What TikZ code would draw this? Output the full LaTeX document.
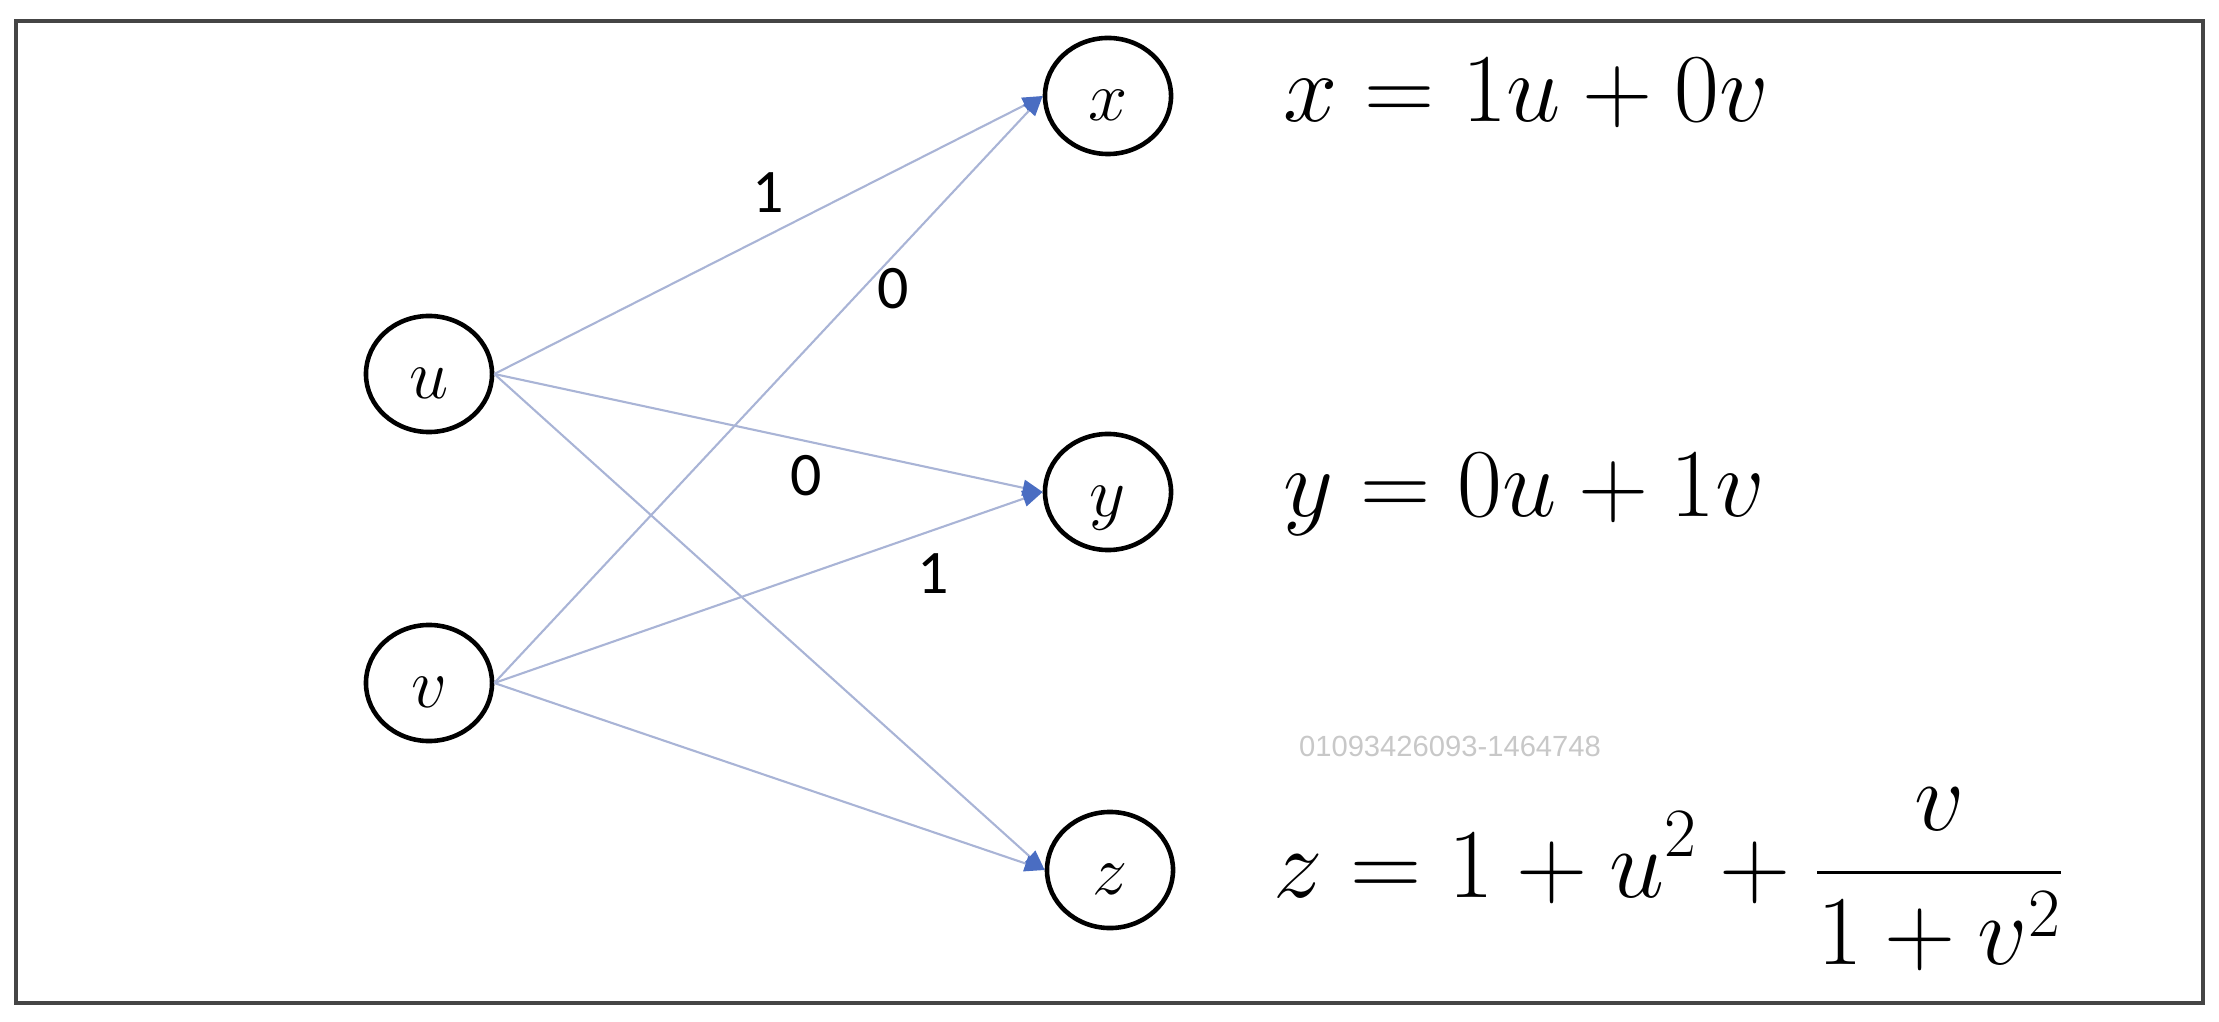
\RequirePackage{fix-cm}
\documentclass[tikz,border=0pt]{standalone}
\usepackage{amsmath}
\usepackage{fontspec}
\newfontfamily\lblfont{Carlito}
\newfontfamily\wmfont{Liberation Sans}
\usetikzlibrary{shapes.geometric,arrows.meta}
\definecolor{edgecol}{HTML}{A9B4D6}
\definecolor{tipcol}{HTML}{4A6DC2}
\definecolor{framecol}{HTML}{454545}
\definecolor{wmcol}{HTML}{C8C8C8}
\tikzset{
  var/.style={draw=black, line width=1.3pt, shape=ellipse, inner sep=0pt,
    minimum width=1.26cm, minimum height=1.16cm, text height=0.49cm, text depth=0pt,
    font=\fontsize{20}{22}\selectfont},
  edge/.style={draw=edgecol, line width=0.6pt,
    -{Triangle[length=0.2cm,width=0.16cm,color=tipcol]}},
  wlabel/.style={inner sep=0pt, font=\lblfont\fontsize{17.6}{20}\selectfont},
  eqn/.style={inner sep=0pt, anchor=base west, font=\fontsize{27.7}{32}\selectfont}
}
\begin{document}
\begin{tikzpicture}[x=0.01cm,y=-0.01cm]
\useasboundingbox (0,0) rectangle (2219,1022);
\draw[framecol, line width=0.9pt] (16,21) rectangle (2203,1003);
% nodes
\node[var] (u) at (429,374) {$u$};
\node[var] (v) at (429,683) {$v$};
\node[var] (x) at (1108,96) {$x$};
\node[var] (y) at (1108,492) {$y$};
\node[var] (z) at (1110,870) {$z$};
% edges
\draw[edge] (u.east) -- (x.west);
\draw[edge] (u.east) -- (y.west);
\draw[edge] (u.east) -- (z.west);
\draw[edge] (v.east) -- (x.west);
\draw[edge] (v.east) -- (y.west);
\draw[edge] (v.east) -- (z.west);
% weight labels
\node[wlabel] (w1) at (768,193) {1};
\node[wlabel] (w2) at (893,289) {0};
\node[wlabel] (w3) at (806,476) {0};
\node[wlabel] (w4) at (933,574) {1};
% equations
\node[eqn] (ex) at (1283,122) {$x = 1u + 0v$};
\node[eqn] (ey) at (1283,517) {$y = 0u + 1v$};
\node[eqn, font=\fontsize{28.1}{32}\selectfont] (ez) at (1273,897) {$\displaystyle z = 1 + u^2 + \genfrac{}{}{1pt}{0}{v}{1 + v^2}$};
% watermark
\node[inner sep=0pt, text=wmcol, font=\wmfont\fontsize{8.3}{10}\selectfont] (wm) at (1450,746) {01093426093-1464748};
\end{tikzpicture}
\end{document}
